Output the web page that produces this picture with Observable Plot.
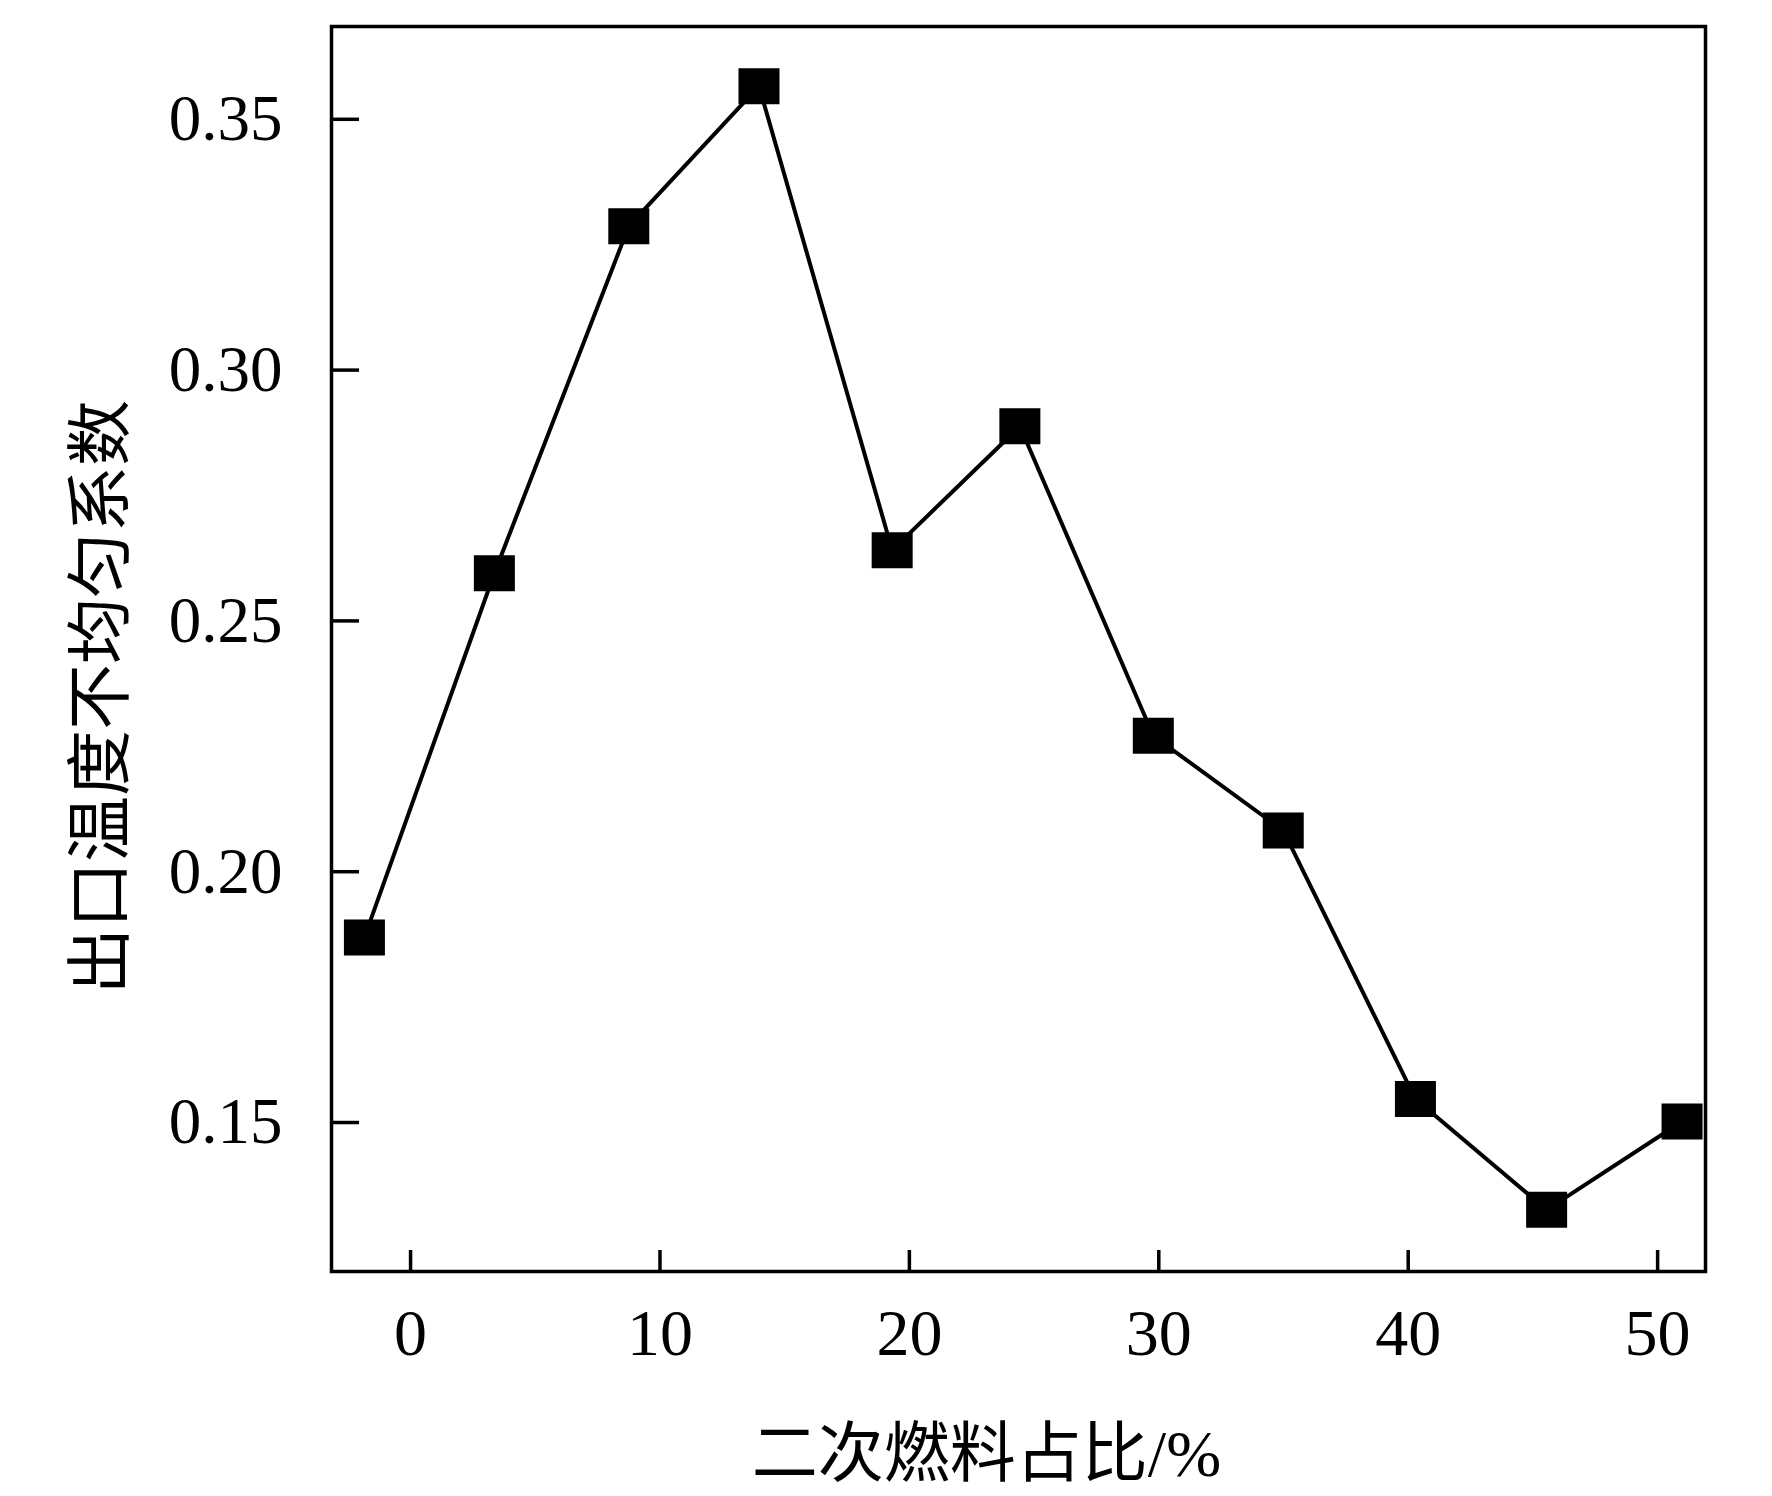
<!DOCTYPE html>
<html><head><meta charset="utf-8">
<script src="https://cdn.jsdelivr.net/npm/d3@7"></script>
<script src="https://cdn.jsdelivr.net/npm/@observablehq/plot@0.6"></script>
<style>html,body{margin:0;padding:0;background:#fff}</style>
</head><body><div id="chart"></div>
<script>
// data
const ratio = [-1.85, 3.36, 8.75, 13.97, 19.31, 24.43, 29.78, 34.99, 40.29, 45.55, 50.98];
const coef  = [0.1869, 0.2595, 0.3287, 0.3566, 0.2641, 0.2888, 0.2271, 0.2082, 0.1547, 0.1326, 0.1502];
const xTicks = [0, 10, 20, 30, 40, 50];
const yTicks = [0.15, 0.20, 0.25, 0.30, 0.35];
const xTitle = "二次燃料占比/%";
const yTitle = "出口温度不均匀系数";

const data = ratio.map((x, i) => ({x, y: coef[i]}));
const rectSymbol = {draw(context) { const w = 41, h = 36; context.rect(-w / 2, -h / 2, w, h); }};
const serif = "'Liberation Serif', 'Times New Roman', 'Noto Sans CJK SC', serif";

const chart = Plot.plot({
  width: 1772, height: 1496,
  marginLeft: 331, marginRight: 67, marginTop: 26, marginBottom: 225,
  x: {domain: [-3.17, 51.92]},
  y: {domain: [0.1203, 0.3685]},
  style: {fontFamily: serif, background: "white", color: "black"},
  marks: [
    Plot.frame({stroke: "black", strokeWidth: 3.5}),
    Plot.axisX(xTicks, {tickSize: -21, strokeWidth: 3.5, tickFormat: () => "", label: null}),
    Plot.axisX(xTicks, {tickSize: 0, tickPadding: 37, fontSize: 66, tickFormat: d => String(d), label: null}),
    Plot.axisY(yTicks, {tickSize: -28, strokeWidth: 3.5, tickFormat: () => "", label: null}),
    Plot.axisY(yTicks, {tickSize: 0, tickPadding: 49, fontSize: 65, tickFormat: d3.format(".2f"), label: null}),
    Plot.line(data, {x: "x", y: "y", stroke: "black", strokeWidth: 4}),
    Plot.dot(data, {x: "x", y: "y", symbol: rectSymbol, fill: "black", stroke: null}),
    Plot.text([xTitle], {frameAnchor: "bottom", dx: -32, dy: 183, fontSize: 66, fontFamily: serif, lineAnchor: "middle", textAnchor: "middle", fill: "black"}),
    Plot.text([yTitle], {frameAnchor: "left", rotate: -90, dx: -229.5, dy: 48, fontSize: 66, fontFamily: "'Noto Sans CJK SC', sans-serif", lineAnchor: "middle", textAnchor: "middle", fill: "black"})
  ]
});
document.getElementById("chart").appendChild(chart);
</script>
</body></html>
